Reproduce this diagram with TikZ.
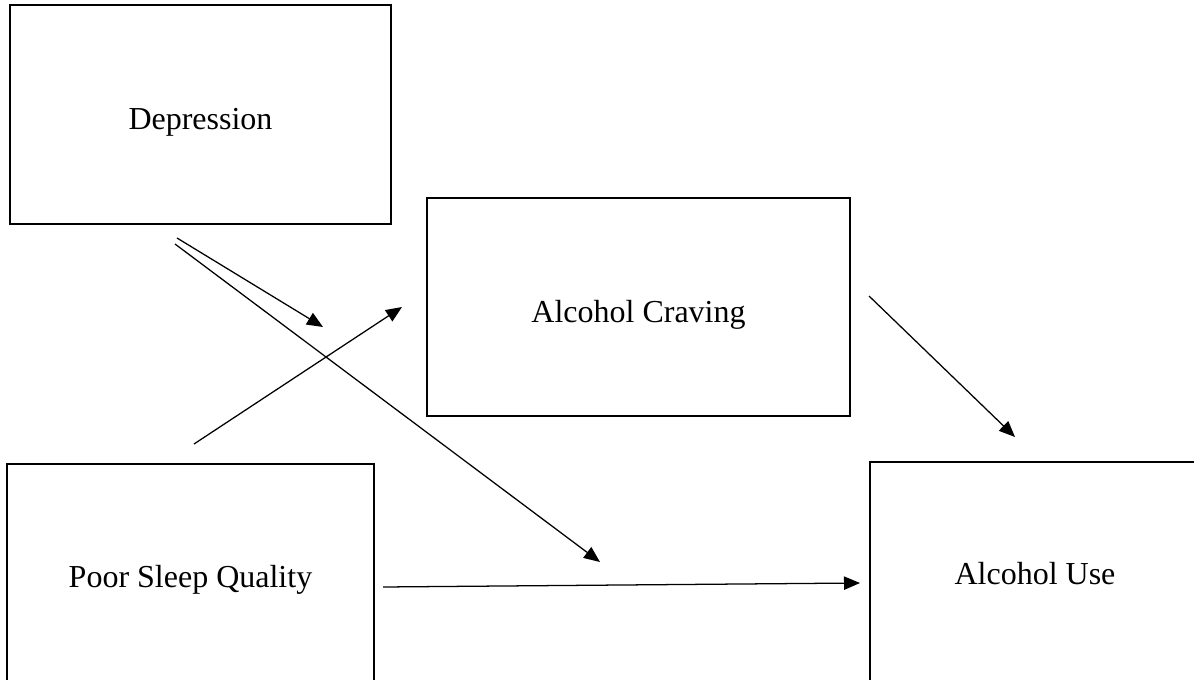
\documentclass[tikz,border=0pt]{standalone}
\usepackage{fontspec}
\setmainfont{Liberation Serif}
\usetikzlibrary{arrows.meta}
\newcommand{\lowered}[2]{\raisebox{-#1}[\height][\depth]{#2}}
\begin{document}
\begin{tikzpicture}[x=0.75pt,y=-0.75pt,
  box/.style={draw=black,line width=1.8pt,fill=white,inner sep=0pt,
    font=\fontsize{24}{28}\selectfont},
  link/.style={draw=black,line width=0.95pt,-{Triangle[length=12pt,width=10pt]}}]
\useasboundingbox (0,0) rectangle (1194,680);
\clip (0,0) rectangle (1194,680);
\fill[white] (0,0) rectangle (1194,680);
\node[box,minimum width=381*0.75pt,minimum height=219*0.75pt] (dep) at (200.5,114.5) {\lowered{5.5pt}{Depression}};
\node[box,minimum width=423*0.75pt,minimum height=218*0.75pt] (crav) at (638.5,307) {\lowered{6pt}{Alcohol Craving}};
\node[box,minimum width=367*0.75pt,minimum height=220*0.75pt] (sleep) at (190.5,574) {\lowered{4.5pt}{Poor Sleep Quality}};
\node[box,minimum width=330*0.75pt,minimum height=220*0.75pt] (use) at (1035,572) {\lowered{1pt}{Alcohol Use}};
\coordinate (a1s) at (177,238);
\coordinate (a1e) at (323,327);
\coordinate (a2s) at (175,244);
\coordinate (a2e) at (600,562);
\coordinate (a3s) at (194,444);
\coordinate (a3e) at (402,307);
\coordinate (a4s) at (869,296);
\coordinate (a4e) at (1015,437);
\coordinate (a5s) at (383,587);
\coordinate (a5e) at (860,583);
\draw[link] (a1s) -- (a1e);
\draw[link] (a2s) -- (a2e);
\draw[link] (a3s) -- (a3e);
\draw[link] (a4s) -- (a4e);
\draw[link] (a5s) -- (a5e);
\end{tikzpicture}
\end{document}
